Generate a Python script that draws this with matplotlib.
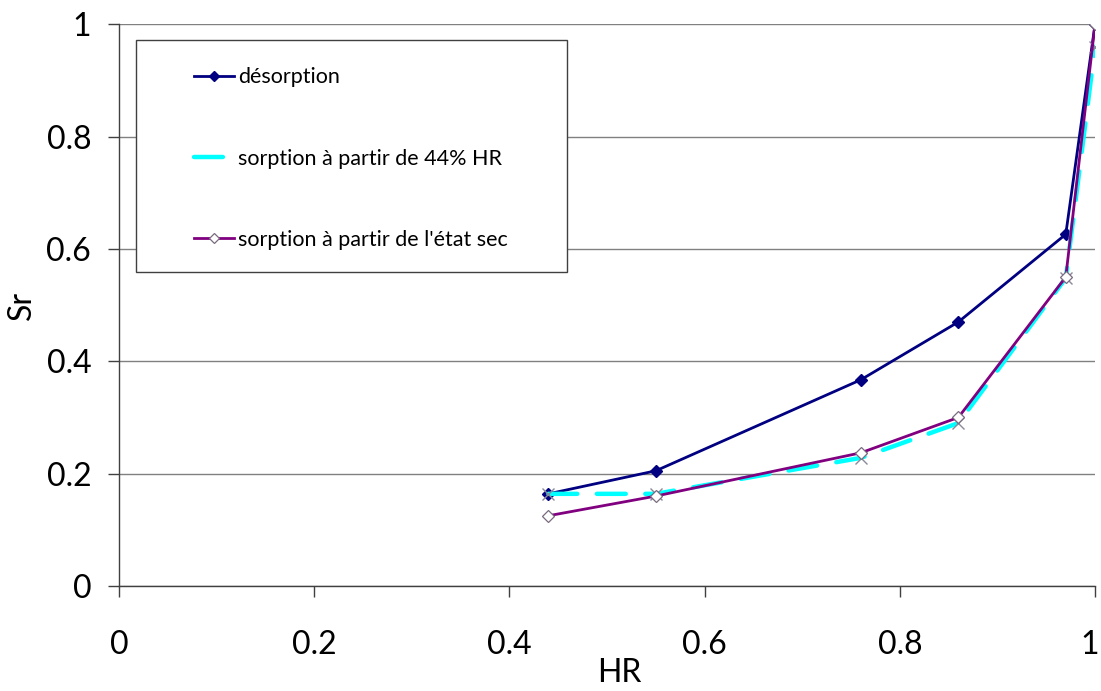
import numpy as np
import matplotlib.pyplot as plt
from matplotlib.patches import Rectangle
from matplotlib.transforms import ScaledTranslation

# relative humidity (HR) and saturation degree (Sr)
hr = [0.44, 0.55, 0.76, 0.86, 0.97, 1.0]
sr_desorption = [0.164, 0.205, 0.367, 0.470, 0.626, 1.0]
sr_sorption_44 = [0.164, 0.164, 0.228, 0.290, 0.548, 0.960]
sr_sorption_sec = [0.125, 0.160, 0.237, 0.300, 0.550, 1.0]

labels = ["désorption",
          "sorption à partir de 44% HR",
          "sorption à partir de l'état sec"]

ticks = [0, 0.2, 0.4, 0.6, 0.8, 1.0]
tick_labels = ["0", "0.2", "0.4", "0.6", "0.8", "1"]

plt.rcParams["font.family"] = ["Lato", "DejaVu Sans"]

fig = plt.figure(figsize=(11.01, 6.91), dpi=100)
ax = fig.add_axes([0.108, 0.152, 0.8866, 0.813])

ax.plot(hr, sr_desorption, color="#000080", lw=2.0, marker="D", ms=6,
        mfc="#000080", mec="#000080", label=labels[0], zorder=3)
ax.plot(hr, sr_sorption_44, color="#00FFFF", lw=3.2, dashes=(6.5, 4.4),
        dash_capstyle="round", marker="x", ms=8, mec="#8a8a9a", mew=1,
        label=labels[1], zorder=4)
ax.plot(hr, sr_sorption_sec, color="#800080", lw=2.0, marker="D", ms=6,
        mfc="white", mec="#7a6a80", mew=0.9, label=labels[2], zorder=5)

ax.set_xlim(0, 1)
ax.set_ylim(0, 1)
ax.set_xticks(ticks)
ax.set_xticklabels(tick_labels)
ax.set_yticks(ticks)
ax.set_yticklabels(tick_labels)
ax.yaxis.grid(True, color="#808080", lw=1)
ax.set_axisbelow(True)
for s in ["top", "right"]:
    ax.spines[s].set_visible(False)
for s in ["left", "bottom"]:
    ax.spines[s].set_color("#404040")
    ax.spines[s].set_linewidth(1)
ax.tick_params(axis="both", direction="out", length=8, width=1,
               color="#404040", labelsize=23)
ax.tick_params(axis="x", pad=24)
ax.tick_params(axis="y", pad=12)

# keep the last x label inside the picture
last = ax.get_xticklabels()[-1]
last.set_transform(last.get_transform() +
                   ScaledTranslation(-4 / 72, 0, fig.dpi_scale_trans))

ax.set_xlabel("HR", fontsize=23)
ax.xaxis.set_label_coords(0.513, -0.128)
ax.set_ylabel("Sr", fontsize=23)
ax.yaxis.set_label_coords(-0.084, 0.5)

# legend box
ax.add_patch(Rectangle((0.0174, 0.559), 0.4416, 0.4125, transform=ax.transAxes,
                       facecolor="white", edgecolor="#404040", lw=1,
                       zorder=6, clip_on=False))
leg = ax.legend(loc="upper left", bbox_to_anchor=(0.0656, 0.9425),
                frameon=False, fontsize=15.5, borderpad=0, labelspacing=2.85,
                handlelength=1.85, handletextpad=0.2, markerscale=0.9)
leg.set_zorder(7)
leg.legend_handles[1].set_marker("")

fig.savefig("out.png", dpi=100)
